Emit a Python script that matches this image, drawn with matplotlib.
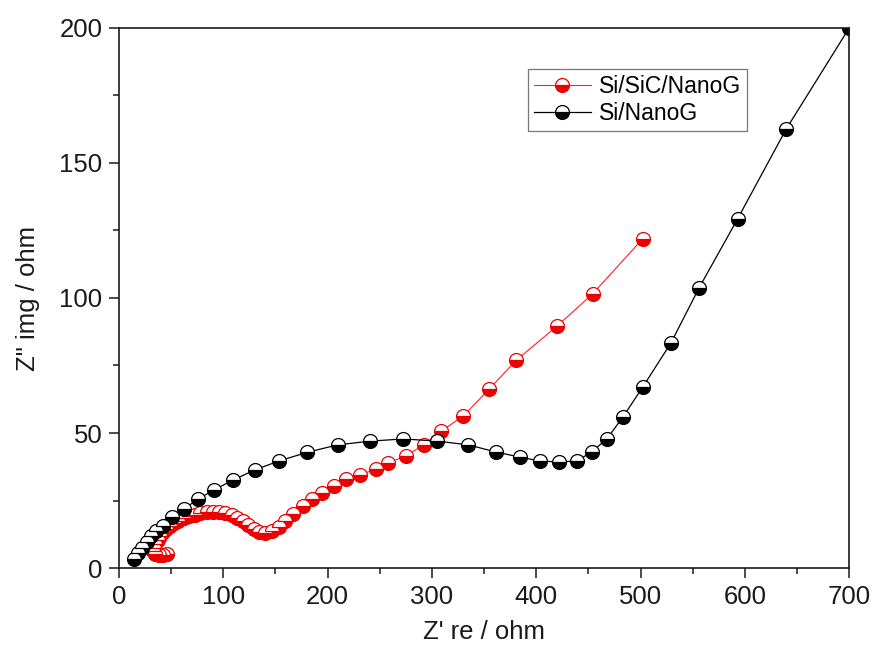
import matplotlib
matplotlib.use("Agg")
import matplotlib.pyplot as plt
from matplotlib.ticker import MultipleLocator

plt.rcParams['font.family'] = ['Liberation Sans', 'DejaVu Sans']

# Nyquist data, Z' (ohm) vs -Z'' (ohm)
sic_re = [46, 42, 38, 35, 33, 33.5, 35, 37, 39.5, 42, 45, 48.5, 52.5, 57, 62, 67,
          72.5, 78, 84, 90, 96, 102, 108, 113.5, 119, 124, 129, 134, 140, 147,
          153, 159.5, 167, 176, 185, 195, 206, 218, 231, 246, 258, 275, 292, 309,
          330, 355, 381, 420, 454, 502]
sic_im = [5.2, 4.8, 4.8, 5.2, 6.2, 7.5, 9, 10.5, 12, 13.3, 14.5, 15.6, 16.6, 17.5,
          18.4, 19.1, 19.8, 20.3, 20.7, 20.9, 20.8, 20.4, 19.6, 18.6, 17.3, 15.9,
          14.5, 13.3, 12.8, 13.6, 15.3, 17.6, 20.2, 23, 25.4, 27.8, 30.4, 32.8,
          34.6, 36.5, 38.9, 41.5, 45.6, 50.7, 56.3, 66.3, 77, 89.6, 101.5, 121.9]

si_re = [14.4, 18.2, 22, 27, 30.7, 35.5, 42, 51, 62.4, 76, 91, 109.5, 130, 153, 180,
         209.5, 241, 272.7, 305, 335, 361, 384, 404, 421.5, 439, 453, 467.6, 483,
         502, 529, 556, 593, 639.5, 700]
si_im = [3.3, 5.6, 7.4, 9.6, 11.9, 13.7, 15.6, 18.9, 21.9, 25.6, 28.9, 32.6, 36.3,
         39.6, 42.8, 45.6, 47, 47.8, 47, 45.6, 43, 41.1, 39.6, 39.3, 39.6, 43, 47.8,
         55.9, 67, 83.3, 103.7, 129.3, 162.5, 200]

fig = plt.figure(figsize=(8.81, 6.47), dpi=100)
ax = fig.add_axes([0.135, 0.122, 0.829, 0.835])

mk = dict(marker='o', markersize=10, fillstyle='bottom', markerfacecoloralt='white',
          markeredgewidth=0.9)
ax.plot(sic_re, sic_im, color='#ff2020', lw=0.8, markerfacecolor='#ee0000',
        markeredgecolor='#ee0000', label='Si/SiC/NanoG', **mk)
ax.plot(si_re, si_im, color='black', lw=0.9, markerfacecolor='black',
        markeredgecolor='black', label='Si/NanoG', **mk)

ax.set_xlim(0, 700)
ax.set_ylim(0, 200)
ax.xaxis.set_major_locator(MultipleLocator(100))
ax.xaxis.set_minor_locator(MultipleLocator(50))
ax.yaxis.set_major_locator(MultipleLocator(50))
ax.yaxis.set_minor_locator(MultipleLocator(25))
ax.tick_params(which='both', direction='out', width=1.1, labelsize=18.5, colors='#1a1a1a')
ax.tick_params(which='major', length=7, pad=5)
ax.tick_params(which='minor', length=4)
for s in ax.spines.values():
    s.set_linewidth(1.2)
    s.set_color('#1a1a1a')

ax.set_xlabel("Z' re / ohm", fontsize=18.5, labelpad=8, color='#1a1a1a')
ax.set_ylabel('Z" img / ohm', fontsize=18.5, labelpad=14, color='#1a1a1a')

leg = ax.legend(loc='upper left', bbox_to_anchor=(528 / 881, 1 - 69 / 647),
                bbox_transform=fig.transFigure, fontsize=16.5, frameon=True,
                fancybox=False, handlelength=2.5, handletextpad=0.35,
                borderpad=0.25, labelspacing=0.2, borderaxespad=0)
leg.get_frame().set_edgecolor('#555555')
leg.get_frame().set_linewidth(0.9)

fig.savefig('out.png', dpi=100)
